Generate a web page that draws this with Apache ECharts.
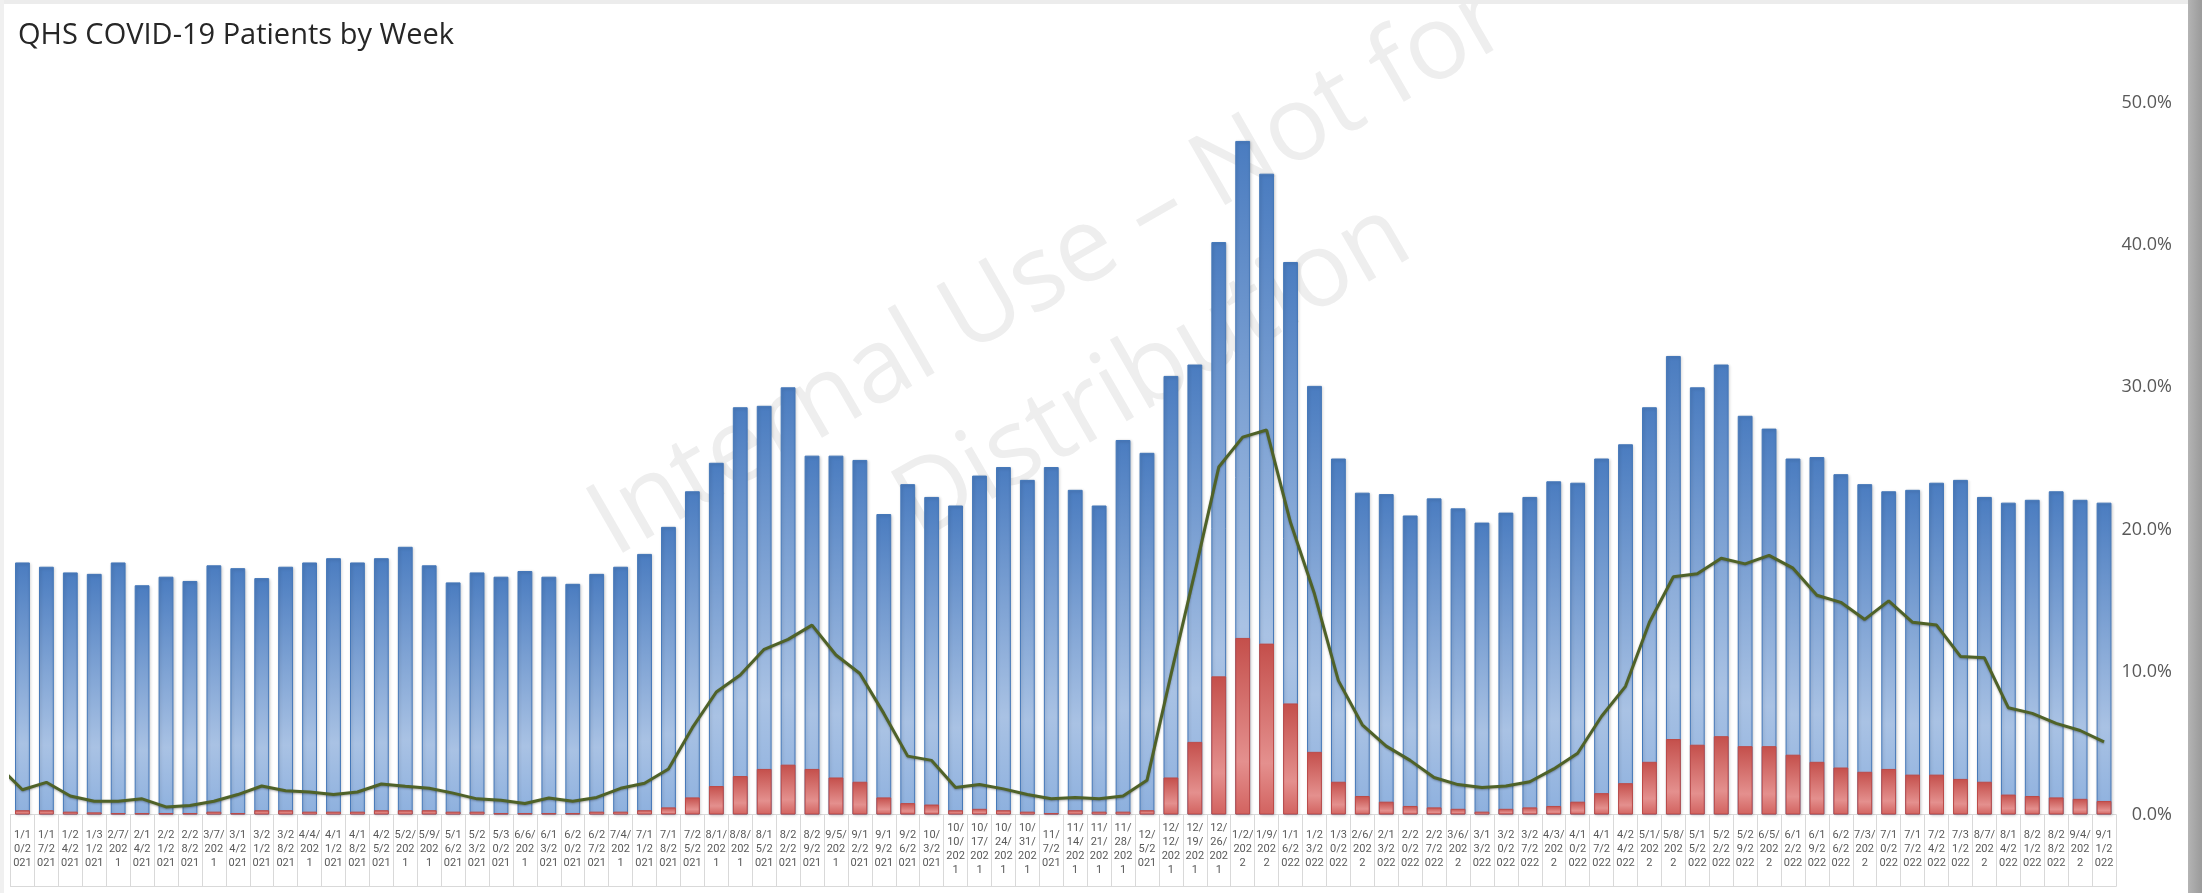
<!DOCTYPE html>
<html>
<head>
<meta charset="utf-8">
<title>QHS COVID-19 Patients by Week</title>
<script src="https://cdn.jsdelivr.net/npm/echarts/dist/echarts.min.js"></script>
<style>
  html, body { margin: 0; padding: 0; background: #fff; }
  #chart { width: 2202px; height: 893px; }
</style>
</head>
<body>
<div id="chart"></div>
<script>
// week starting dates
const weeks = [
  '1/10/2021','1/17/2021','1/24/2021','1/31/2021','2/7/2021','2/14/2021','2/21/2021','2/28/2021','3/7/2021','3/14/2021',
  '3/21/2021','3/28/2021','4/4/2021','4/11/2021','4/18/2021','4/25/2021','5/2/2021','5/9/2021','5/16/2021','5/23/2021',
  '5/30/2021','6/6/2021','6/13/2021','6/20/2021','6/27/2021','7/4/2021','7/11/2021','7/18/2021','7/25/2021','8/1/2021',
  '8/8/2021','8/15/2021','8/22/2021','8/29/2021','9/5/2021','9/12/2021','9/19/2021','9/26/2021','10/3/2021','10/10/2021',
  '10/17/2021','10/24/2021','10/31/2021','11/7/2021','11/14/2021','11/21/2021','11/28/2021','12/5/2021','12/12/2021','12/19/2021',
  '12/26/2021','1/2/2022','1/9/2022','1/16/2022','1/23/2022','1/30/2022','2/6/2022','2/13/2022','2/20/2022','2/27/2022',
  '3/6/2022','3/13/2022','3/20/2022','3/27/2022','4/3/2022','4/10/2022','4/17/2022','4/24/2022','5/1/2022','5/8/2022',
  '5/15/2022','5/22/2022','5/29/2022','6/5/2022','6/12/2022','6/19/2022','6/26/2022','7/3/2022','7/10/2022','7/17/2022',
  '7/24/2022','7/31/2022','8/7/2022','8/14/2022','8/21/2022','8/28/2022','9/4/2022','9/11/2022'
]

// blue bars (%)
const bluePct = [
  17.7, 17.4, 17.0, 16.9, 17.7, 16.1, 16.7, 16.4, 17.5, 17.3,
  16.6, 17.4, 17.7, 18.0, 17.7, 18.0, 18.8, 17.5, 16.3, 17.0,
  16.7, 17.1, 16.7, 16.2, 16.9, 17.4, 18.3, 20.2, 22.7, 24.7,
  28.6, 28.7, 30.0, 25.2, 25.2, 24.9, 21.1, 23.2, 22.3, 21.7,
  23.8, 24.4, 23.5, 24.4, 22.8, 21.7, 26.3, 25.4, 30.8, 31.6,
  40.2, 47.3, 45.0, 38.8, 30.1, 25.0, 22.6, 22.5, 21.0, 22.2,
  21.5, 20.5, 21.2, 22.3, 23.4, 23.3, 25.0, 26.0, 28.6, 32.2,
  30.0, 31.6, 28.0, 27.1, 25.0, 25.1, 23.9, 23.2, 22.7, 22.8,
  23.3, 23.5, 22.3, 21.9, 22.1, 22.7, 22.1, 21.9
]

// red bars (%)
const redPct = [
  0.3, 0.3, 0.2, 0.15, 0.1, 0.1, 0.1, 0.1, 0.2, 0.1,
  0.3, 0.3, 0.2, 0.2, 0.2, 0.3, 0.3, 0.3, 0.2, 0.2,
  0.1, 0.1, 0.1, 0.1, 0.2, 0.2, 0.3, 0.5, 1.2, 2.0,
  2.7, 3.2, 3.5, 3.2, 2.6, 2.3, 1.2, 0.8, 0.7, 0.3,
  0.4, 0.3, 0.2, 0.1, 0.3, 0.2, 0.2, 0.3, 2.6, 5.1,
  9.7, 12.4, 12.0, 7.8, 4.4, 2.3, 1.3, 0.9, 0.6, 0.5,
  0.4, 0.2, 0.4, 0.5, 0.6, 0.9, 1.5, 2.2, 3.7, 5.3,
  4.9, 5.5, 4.8, 4.8, 4.2, 3.7, 3.3, 3.0, 3.2, 2.8,
  2.8, 2.5, 2.3, 1.4, 1.3, 1.2, 1.1, 0.95
]

// green line (%), plus the week before the first category (clipped at the plot edge)
const linePrevWeek = 3.4
const linePct = [
  1.74, 2.26, 1.3, 0.93, 0.93, 1.1, 0.53, 0.63, 0.93, 1.4,
  2.0, 1.67, 1.58, 1.4, 1.58, 2.14, 1.98, 1.84, 1.5, 1.1,
  1.0, 0.77, 1.16, 0.93, 1.2, 1.84, 2.2, 3.2, 6.1, 8.6,
  9.8, 11.6, 12.3, 13.3, 11.2, 9.9, 7.1, 4.1, 3.8, 1.9,
  2.1, 1.8, 1.4, 1.1, 1.2, 1.1, 1.3, 2.4, 9.8, 17.0,
  24.4, 26.5, 27.0, 20.5, 15.5, 9.4, 6.3, 4.8, 3.8, 2.6,
  2.1, 1.9, 2.0, 2.3, 3.2, 4.3, 6.9, 9.0, 13.5, 16.7,
  16.9, 18.0, 17.6, 18.2, 17.3, 15.4, 14.9, 13.7, 15.0, 13.5,
  13.3, 11.1, 11.0, 7.5, 7.1, 6.4, 5.9, 5.1
]

// right axis ticks
const yTicks = { min: 0, max: 50, step: 10 }

// excel-style character wrap of the narrow date labels
function wrapLabel(s) {
  let lines = [], cur = '', w = 0
  for (const ch of s) {
    let cw = ch === '/' ? 0.5 : 1
    if (w + cw > 3 && cur) { lines.push(cur); cur = ''; w = 0 }
    cur += ch
    w += cw
  }
  if (cur) lines.push(cur)
  return lines.join('\n')
}

let lineData = [[-1, linePrevWeek]]
linePct.forEach((v, i) => lineData.push([i, v]))

const chart = echarts.init(document.getElementById('chart'), null, { renderer: 'canvas' })

const blueFill = new echarts.graphic.LinearGradient(0, 0, 0, 1, [
  { offset: 0, color: '#4a7cc0' },
  { offset: 0.72, color: '#a9c2e4' },
  { offset: 1, color: '#8db0de' }
])
const redFill = new echarts.graphic.LinearGradient(0, 0, 0, 1, [
  { offset: 0, color: '#c44f4b' },
  { offset: 0.7, color: '#e4908e' },
  { offset: 1, color: '#d2625f' }
])

let option = {
  backgroundColor: '#fff',
  animation: false,
  title: {
    text: 'QHS COVID-19 Patients by Week',
    left: 13,
    top: 16,
    textStyle: {
      fontFamily: 'Open Sans',
      fontSize: 29,
      fontWeight: 'normal',
      color: '#262626'
    }
  },
  grid: {
    left: 10.5,
    right: 86,
    top: 102.5,
    bottom: 78.5,
    containLabel: false,
    outerBoundsMode: 'none'
  },
  graphic: [
    // watermark, behind the bars
    {
      type: 'text', z: 0, x: 1050, y: 272, rotation: Math.PI / 6,
      style: {
        text: 'Internal Use – Not for', fill: '#eeeeee',
        font: '104px "Open Sans"', textAlign: 'center', textVerticalAlign: 'middle'
      }
    },
    {
      type: 'text', z: 0, x: 1153, y: 372, rotation: Math.PI / 6,
      style: {
        text: 'Distribution', fill: '#eeeeee',
        font: '104px "Open Sans"', textAlign: 'center', textVerticalAlign: 'middle'
      }
    },
    // window frame
    { type: 'rect', z: 10, shape: { x: 0, y: 0, width: 2188, height: 4 }, style: { fill: '#ececec' } },
    { type: 'rect', z: 10, shape: { x: 0, y: 0, width: 4, height: 893 }, style: { fill: '#f0f0f0' } },
    {
      type: 'rect', z: 10, shape: { x: 2188, y: 0, width: 14, height: 893 },
      style: {
        fill: new echarts.graphic.LinearGradient(0, 0, 1, 0, [
          { offset: 0, color: '#b4b4b4' },
          { offset: 1, color: '#9a9a9a' }
        ])
      }
    }
  ],
  xAxis: [
    {
      type: 'category',
      data: weeks,
      position: 'bottom',
      axisLine: { lineStyle: { color: '#d9d9d9', width: 1 } },
      axisTick: { show: true, interval: 0, length: 72, lineStyle: { color: '#d9d9d9' } },
      axisLabel: {
        interval: 0,
        formatter: v => wrapLabel(v),
        fontFamily: 'Roboto',
        fontSize: 11,
        lineHeight: 14,
        color: '#595959',
        margin: 35,
        verticalAlign: 'middle'
      },
      splitLine: { show: false }
    },
    {
      // bottom edge of the label table
      type: 'category',
      data: weeks,
      position: 'bottom',
      offset: 72,
      axisLine: { lineStyle: { color: '#d9d9d9', width: 1 } },
      axisTick: { show: false },
      axisLabel: { show: false },
      splitLine: { show: false }
    },
    {
      type: 'value',
      min: -0.5,
      max: weeks.length - 0.5,
      show: false
    }
  ],
  yAxis: {
    type: 'value',
    position: 'right',
    min: yTicks.min,
    max: yTicks.max,
    interval: yTicks.step,
    axisLine: { show: false },
    axisTick: { show: false },
    splitLine: { show: false },
    axisLabel: {
      formatter: v => v.toFixed(1) + '%',
      fontFamily: 'Open Sans',
      fontSize: 18,
      color: '#595959',
      align: 'right',
      margin: 56
    }
  },
  series: [
    {
      name: 'Blue',
      type: 'bar',
      xAxisIndex: 0,
      data: bluePct,
      barWidth: '62%',
      barGap: '-100%',
      z: 2,
      itemStyle: {
        color: blueFill,
        borderColor: '#4477b8',
        borderWidth: 1,
        shadowColor: 'rgba(0,0,0,0.18)',
        shadowBlur: 3,
        shadowOffsetX: 1,
        shadowOffsetY: 1
      }
    },
    {
      name: 'Red',
      type: 'bar',
      xAxisIndex: 0,
      data: redPct,
      barWidth: '62%',
      barGap: '-100%',
      z: 3,
      itemStyle: {
        color: redFill,
        borderColor: '#bd4a47',
        borderWidth: 1
      }
    },
    {
      name: 'Line',
      type: 'line',
      xAxisIndex: 2,
      data: lineData,
      showSymbol: false,
      clip: true,
      z: 4,
      lineStyle: {
        color: '#4f6228',
        width: 3,
        shadowColor: 'rgba(0,0,0,0.3)',
        shadowBlur: 2,
        shadowOffsetY: 1
      }
    }
  ]
}

chart.setOption(option)
</script>
</body>
</html>
